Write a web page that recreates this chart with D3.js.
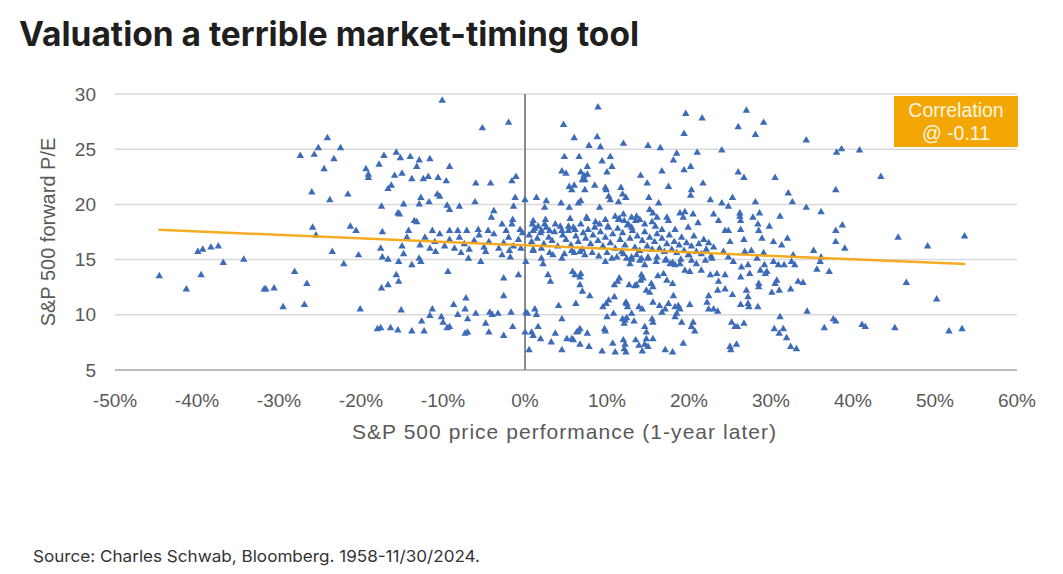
<!DOCTYPE html>
<html><head><meta charset="utf-8">
<script src="https://cdn.jsdelivr.net/npm/d3@7"></script>
<style>
html,body{margin:0;padding:0;background:#fff;}
svg{display:block;}
</style></head>
<body>
<svg id="chart" width="1063" height="574"></svg>
<script>
const titleText = "Valuation a terrible market-timing tool";
const sourceText = "Source: Charles Schwab, Bloomberg. 1958-11/30/2024.";
const xLabel = "S&P 500 price performance (1-year later)";
const yLabel = "S&P 500 forward P/E";
const xTicks = [-50,-40,-30,-20,-10,0,10,20,30,40,50,60];
const yTicks = [5,10,15,20,25,30];
const corrLines = ["Correlation","@ -0.11"];
const trendX = [-44.7, 53.7];
const trendY = [17.7, 14.6];
// [1-year price performance %, forward P/E]
const points = [
[-44.6,13.5],[-41.3,12.3],[-39.9,15.7],[-39.3,15.9],[-38.3,16.1],[-37.4,16.2],[-36.8,14.7],[-34.3,15.0],[-39.5,13.6],[-31.8,12.3],
[-24.1,26.0],[-25.2,25.1],[-22.5,25.1],[-27.4,24.4],[-25.7,24.5],[-23.3,24.1],[-24.5,23.2],[-26.0,21.1],[-23.8,20.4],[-21.6,20.9],[-17.2,24.4],[-15.7,24.7],[-15.2,24.2],[-14.0,24.3],[-17.8,23.6],[-19.4,23.2],[-19.1,22.7],[-19.1,22.4],[-15.9,22.6],[-15.0,22.8],[-13.8,22.3],[-16.3,21.7],[-16.7,21.4],[-17.5,19.8],[-14.8,20.0],[-15.5,19.2],[-15.3,19.1],[-13.5,18.5],[-25.9,17.9],[-21.3,18.0],[-20.6,17.6],[-17.4,17.5],[-14.2,17.6],
[-25.5,17.2],[-14.4,17.0],[-17.6,16.0],[-15.0,16.2],[-14.8,15.5],[-23.5,15.7],[-20.3,15.4],[-17.4,15.2],[-16.7,15.0],[-22.1,14.6],[-15.4,14.8],[-13.8,14.5],[-28.1,13.9],[-26.6,12.8],[-31.6,12.3],[-30.6,12.4],[-15.7,13.6],[-15.4,13.0],[-16.7,12.7],[-17.5,12.4],[-29.5,10.7],[-26.9,10.9],[-20.1,10.5],[-15.1,10.4],[-18.0,8.7],[-17.6,8.8],[-16.4,8.8],[-15.5,8.6],[-13.8,8.5],
[-10.1,29.4],[-5.2,26.9],[-2.0,27.4],[-12.9,24.0],[-11.6,24.1],[-13.2,23.4],[-9.2,23.4],[-11.8,22.5],[-12.4,22.3],[-10.6,22.4],[-9.6,22.1],[-6.0,21.9],[-4.2,21.9],[-1.1,22.5],[-1.6,22.1],[-12.7,20.6],[-10.7,20.9],[-10.4,20.7],[-11.7,20.2],[-12.9,20.0],[-9.5,19.9],[-9.2,19.5],[-8.0,19.8],[-6.1,20.2],[-1.2,20.6],[-1.4,19.8],[0.0,20.4],[-3.8,19.4],[-4.1,18.8],[-2.8,18.2],[-1.5,18.6],[-1.6,18.2],[-13.2,18.4],[-11.3,17.6],[-9.2,17.6],[-8.2,17.6],[-7.1,17.6],[-5.7,17.7],[-4.5,17.6],[-2.3,17.6],[-0.6,17.7],
[4.7,27.2],[4.8,24.3],[4.5,23.0],[1.4,20.6],[2.6,20.3],[2.4,19.7],[4.4,20.1],[1.0,18.5],[0.9,18.2],[1.6,18.0],[2.4,18.2],[3.7,18.2],[1.0,17.6],[2.0,17.6],[3.0,17.6],[4.5,17.6],
[-12.9,15.1],[-12.7,14.8],[-9.4,13.9],[-6.9,15.1],[-5.4,14.8],[-2.8,15.4],[-1.8,15.2],[-2.6,13.3],[-0.8,13.6],[-2.6,11.7],[-7.2,11.5],[-8.7,10.9],[-7.3,10.5],[-11.3,10.5],[-11.6,9.9],[-8.2,10.0],[-7.0,9.6],[-6.0,10.1],[-4.3,10.2],[-4.0,10.0],[-3.3,10.1],[-1.7,10.2],[-12.6,9.4],[-10.2,9.8],[-10.0,9.3],[-9.5,8.8],[-9.2,8.9],[-12.3,8.5],[-4.8,9.2],[-4.4,8.4],[-7.3,8.3],[-7.0,8.4],[-1.5,8.9],[-2.6,8.1],[0.1,10.2],[0.3,10.1],[0.0,8.4],[0.5,6.8],
[1.2,10.5],[1.4,10.0],[1.6,8.9],[1.9,7.8],[0.8,8.4],[1.0,8.1],[3.2,7.5],[3.7,8.3],[4.1,10.8],[4.5,9.6],[4.5,6.8],[2.8,13.6],[3.1,13.0],[0.1,14.8],[2.0,15.1],[2.2,14.6],[3.4,15.4],[4.5,15.1],[1.0,15.8],
[8.9,28.8],[19.6,28.2],[21.6,27.8],[19.4,26.4],[6.0,26.0],[8.8,26.1],[7.8,25.3],[9.2,25.2],[12.0,25.5],[15.0,25.3],[16.5,25.1],[18.5,24.6],[18.1,24.0],[21.0,24.7],[6.6,24.3],[10.4,24.3],[9.4,23.9],[10.6,23.4],[7.6,23.4],[6.8,22.9],[7.2,22.6],[7.6,22.7],[7.3,22.2],[7.0,22.2],[10.0,22.9],[5.0,22.8],[14.1,22.6],[16.7,23.0],[19.4,23.1],[20.2,23.4],[14.9,21.9],[17.5,21.6],[21.7,21.9],[5.4,21.6],[6.0,21.7],[5.7,21.3],[7.3,21.3],[8.5,21.7],[9.8,21.5],[9.9,21.3],[11.7,21.5],[11.9,20.9],[12.3,20.6],[10.2,20.7],[10.4,20.4],[11.4,20.2],[15.1,20.6],[16.3,20.1],[20.2,20.8],[20.3,21.3],[22.6,20.4],[6.5,20.1],[6.8,20.3],[5.4,19.7],[9.1,19.7],[7.6,18.7],[11.0,18.9],[11.4,18.6],[12.0,19.1],[12.1,18.5],[13.0,18.8],[13.6,18.9],[14.0,18.6],[14.6,18.2],[15.2,19.5],[15.6,19.2],[16.1,18.8],[17.3,18.8],[18.9,19.2],[19.3,18.8],[19.5,19.3],[20.5,19.1],[21.1,18.3],[23.0,19.1],[19.9,17.9],[18.3,17.7],[16.7,17.7],[15.9,18.0],[13.0,17.9],[12.6,18.2],[10.2,17.9],[9.1,18.2],[8.5,17.9],[6.1,17.7],[5.3,18.0],
[27.0,28.5],[26.0,27.0],[29.1,27.4],[28.1,26.3],[34.3,25.8],[24.0,24.9],[38.0,24.7],[38.6,25.0],[40.8,24.9],[26.0,22.9],[26.7,22.4],[30.5,22.4],[32.1,21.0],[37.9,21.3],[32.6,20.2],[25.3,20.6],[24.0,20.1],[24.8,19.8],[28.1,20.2],[34.3,19.7],[36.1,19.3],[23.6,18.5],[26.2,19.2],[26.2,18.9],[26.3,18.5],[27.8,18.8],[28.6,19.2],[28.4,18.2],[29.8,18.0],[31.1,18.9],[38.7,18.1],[37.9,17.6],[24.4,17.6],[24.8,17.6],[26.3,17.7],[28.5,17.6],
[43.4,22.5],[45.5,17.0],[49.1,16.2],[53.6,17.1],[46.5,12.9],[50.2,11.4],[41.5,8.9],[45.1,8.8],[51.7,8.5],[53.3,8.7],
[5.8,13.9],[6.1,13.6],[6.7,13.4],[6.8,13.7],[6.7,12.7],[7.0,12.1],[7.9,11.7],[6.2,11.0],[6.7,8.7],[6.5,8.5],[6.3,8.4],[5.7,7.8],[5.1,7.8],[5.9,7.7],[7.6,8.3],[6.7,7.3],[7.8,7.1],[9.4,6.7],[9.7,8.7],[9.8,8.5],[10.2,11.3],[9.9,11.0],[9.5,10.7],[10.9,11.6],[10.8,10.1],[10.0,9.8],[10.9,12.7],[11.3,13.0],[11.5,13.3],[10.7,7.4],[11.0,6.6],[12.0,7.7],[12.2,7.3],[12.1,6.9],[12.3,6.6],[11.9,9.6],[12.2,9.5],[12.1,9.2],[12.4,9.7],[12.4,11.0],[12.5,10.7],[12.3,11.1],[12.7,12.7],[13.4,12.6],[13.6,12.7],[13.0,10.1],[13.3,9.4],[13.5,7.7],[13.9,7.2],[14.3,6.7],[13.9,10.7],[14.3,10.5],[14.1,13.1],[14.2,13.6],[14.4,13.3],[14.8,12.2],[15.2,12.0],[15.4,12.8],[15.6,12.5],[14.6,8.9],[14.8,8.4],[15.5,9.6],[15.6,9.3],[14.8,7.8],[15.6,7.8],[14.6,7.3],[15.0,7.1],[15.6,11.1],[16.4,10.8],[16.2,13.5],[16.9,13.7],[17.3,13.1],[18.0,12.8],[18.1,11.7],[16.7,10.2],[17.1,10.5],[17.5,11.0],[18.3,10.7],[18.7,10.8],[18.9,10.5],[18.3,9.8],[19.1,9.3],[18.5,10.1],[17.1,6.8],[18.0,6.6],[19.3,7.4],[20.1,10.9],[20.5,9.3],[20.3,8.9],[20.7,8.5],[19.5,14.0],[20.1,13.9],[20.3,14.9],[21.5,14.0],[22.6,13.6],[22.4,11.7],[22.2,11.1],[22.4,10.5],[23.0,10.5],
[5.7,15.8],[6.7,15.7],[7.3,15.4],[9.8,14.8],[10.6,15.1],[11.8,15.7],[12.4,15.1],[12.8,14.6],[13.0,15.2],[13.6,15.4],[14.2,15.1],[14.6,14.5],[15.0,15.1],[16.1,15.2],[17.1,14.9],[17.7,14.6],[18.3,14.5],[18.9,14.6],[19.9,15.4],[20.9,14.6],[22.0,14.9],[22.8,15.1],
[25.0,16.6],[26.7,16.8],[28.9,16.9],[30.3,16.6],[31.3,16.3],[32.0,16.9],[37.9,16.6],[39.0,16.0],
[24.2,15.7],[26.8,15.7],[27.6,15.8],[29.1,15.6],[32.7,15.4],[35.2,15.8],[36.1,15.2],[36.0,14.8],
[24.8,15.2],[25.4,14.8],[26.4,14.3],[27.2,14.5],[28.3,15.1],[29.2,14.5],[29.5,13.9],[30.3,14.8],[30.9,14.5],[31.6,14.5],[32.5,14.8],[32.9,14.5],[35.6,14.1],[37.1,13.9],
[23.4,13.7],[24.4,13.6],[26.3,13.4],[27.4,13.7],[28.7,14.0],[29.3,13.7],[23.6,13.0],[28.5,12.8],[30.7,13.1],[30.5,12.8],[33.3,13.0],[33.9,12.9],[32.4,12.3],
[23.5,12.2],[24.4,12.3],[25.3,11.8],[27.0,12.2],[27.2,11.6],[28.5,12.5],[30.1,12.0],[31.0,12.2],[28.4,10.7],[26.3,10.9],[27.2,11.0],[27.3,10.7],
[23.5,10.3],[34.4,10.3],[31.1,9.8],[25.2,9.3],[25.6,8.9],[25.9,8.9],[26.7,9.2],[30.4,8.7],[31.5,8.7],[31.0,8.3],[31.9,7.9],[37.6,9.6],[37.9,9.4],[36.5,8.8],[41.1,9.1],[25.0,7.1],[25.1,6.8],[25.8,7.3],[32.4,7.1],[33.1,6.9],
[0.5,17.2],[0.8,16.6],[1.2,17.8],[1.5,16.9],[1.9,17.4],[2.3,16.4],[2.6,17.9],[2.9,17.0],[3.3,16.7],[3.6,17.5],[4.0,16.2],[4.3,18.0],[4.6,17.2],[5.0,16.8],[5.3,17.6],[5.6,16.3],[5.9,17.9],[6.2,17.1],[6.5,16.6],[6.8,18.2],[7.1,17.4],[7.4,16.9],[7.7,17.7],[8.0,16.4],[8.3,17.2],[8.6,18.4],[8.9,16.7],[9.2,17.5],[9.5,16.2],[9.8,17.0],[10.1,18.0],[10.4,16.5],[10.7,17.3],[11.0,16.0],[11.3,17.8],[11.6,16.8],[11.9,17.4],[12.2,16.3],[12.5,18.1],[12.8,16.9],[13.1,17.6],[13.4,16.1],[13.7,17.1],[14.0,15.8],[14.3,16.7],[14.6,17.5],[14.9,16.2],[15.2,17.0],[15.5,15.9],[15.8,16.6],[16.1,17.3],[16.4,16.0],[16.7,16.9],[17.0,15.7],[17.3,16.4],[17.6,17.2],[17.9,15.9],[18.2,16.6],[18.5,15.6],[18.8,16.3],[19.1,17.0],[19.4,15.8],[19.7,16.5],[20.0,15.4],[20.3,16.2],[20.6,17.1],[20.9,15.7],[21.2,16.4],[21.5,15.5],[21.8,16.8],[22.1,15.9],[22.4,16.5],[22.7,15.3],[23.0,16.1],
[1.0,15.9],[2.0,16.0],[3.0,15.6],[4.8,15.5],[6.0,15.6],[7.0,15.9],[8.2,15.6],[9.0,15.3],[10.0,15.6],[11.2,15.2],[12.0,15.5],[13.0,15.0],[14.0,14.9],[15.0,15.2],[16.0,14.8],[17.2,15.0],[18.0,14.7],[19.0,15.0],[2.5,18.6],[5.5,18.7],[7.5,18.8],[9.8,18.6],[11.5,18.7],[13.5,18.5],[15.5,18.4],[17.5,18.5],
[-12.8,16.3],[-12.2,17.0],[-11.6,16.0],[-11.0,16.6],[-10.4,17.3],[-9.8,16.2],[-9.2,16.8],[-8.6,16.0],[-8.0,17.0],[-7.4,16.4],[-6.8,15.9],[-6.2,16.7],[-5.6,17.2],[-5.0,16.1],[-4.4,16.6],[-3.8,17.3],[-3.2,16.0],[-2.6,16.5],[-2.0,17.0],[-1.4,16.2],[-0.8,16.8],[-0.3,17.4],[-0.5,16.0],[-10.9,15.7],[-7.8,15.6],[-4.8,15.7],[-1.9,15.8]
];

const svg = d3.select("#chart");
const x = d3.scaleLinear().domain([-50, 60]).range([115, 1017]);
const y = d3.scaleLinear().domain([5, 30]).range([370, 94]);

// title
svg.append("text").attr("x", 19).attr("y", 46)
  .attr("font-family", "Inter, Roboto, sans-serif").attr("font-weight", 700)
  .attr("font-size", 33.5).attr("fill", "#1f1f1f").text(titleText);

// gridlines
svg.append("g").selectAll("line").data(yTicks.filter(d => d !== 5)).join("line")
  .attr("x1", x(-50)).attr("x2", x(60))
  .attr("y1", d => y(d)).attr("y2", d => y(d))
  .attr("stroke", "#d9d9d9").attr("stroke-width", 1.5);
// x-axis baseline
svg.append("line").attr("x1", x(-50)).attr("x2", x(60)).attr("y1", y(5)).attr("y2", y(5))
  .attr("stroke", "#a6a6a6").attr("stroke-width", 1.5);
// zero vertical line
svg.append("line").attr("x1", x(0)).attr("x2", x(0)).attr("y1", y(30)).attr("y2", y(5))
  .attr("stroke", "#8c8c8c").attr("stroke-width", 2);

const labelFont = "'Liberation Sans', Arial, sans-serif";
// y tick labels
svg.append("g").selectAll("text").data(yTicks).join("text")
  .attr("x", 96).attr("y", d => y(d)).attr("dy", "0.35em")
  .attr("text-anchor", "end").attr("font-family", labelFont).attr("font-size", 19)
  .attr("fill", "#595959").text(d => d);
// x tick labels
svg.append("g").selectAll("text").data(xTicks).join("text")
  .attr("x", d => x(d)).attr("y", 407)
  .attr("text-anchor", "middle").attr("font-family", labelFont).attr("font-size", 19)
  .attr("fill", "#595959").text(d => d + "%");

// axis titles
svg.append("text").attr("x", 564).attr("y", 439).attr("text-anchor", "middle")
  .attr("font-family", labelFont).attr("font-size", 21).attr("fill", "#595959")
  .attr("textLength", 424).attr("lengthAdjust", "spacing").text(xLabel);
svg.append("text").attr("transform", `translate(55,${(y(5)+y(30))/2}) rotate(-90)`)
  .attr("text-anchor", "middle")
  .attr("font-family", labelFont).attr("font-size", 20).attr("fill", "#595959").text(yLabel);

// points
const tri = d3.symbol().type(d3.symbolTriangle).size(24);
svg.append("g").selectAll("path").data(points).join("path")
  .attr("transform", d => `translate(${x(d[0])},${y(d[1])})`)
  .attr("d", tri).attr("fill", "#3d6bb8");

// trend line
svg.append("line")
  .attr("x1", x(trendX[0])).attr("y1", y(trendY[0]))
  .attr("x2", x(trendX[1])).attr("y2", y(trendY[1]))
  .attr("stroke", "#f5a818").attr("stroke-width", 2.5).attr("opacity", 0.95);

// correlation box
const bx = 894, by = 96, bw = 124, bh = 51;
svg.append("rect").attr("x", bx).attr("y", by).attr("width", bw).attr("height", bh).attr("fill", "#f2a705");
svg.append("g").selectAll("text").data(corrLines).join("text")
  .attr("x", bx + bw/2).attr("y", (d, i) => by + 21 + i * 23)
  .attr("text-anchor", "middle").attr("font-family", labelFont).attr("font-size", 19.5)
  .attr("fill", "#fff6e0").text(d => d);

// source
svg.append("text").attr("x", 33).attr("y", 562)
  .attr("font-family", "Inter, Roboto, sans-serif").attr("font-size", 16.5)
  .attr("textLength", 447).attr("lengthAdjust", "spacingAndGlyphs")
  .attr("fill", "#333").text(sourceText);
</script>
</body></html>
